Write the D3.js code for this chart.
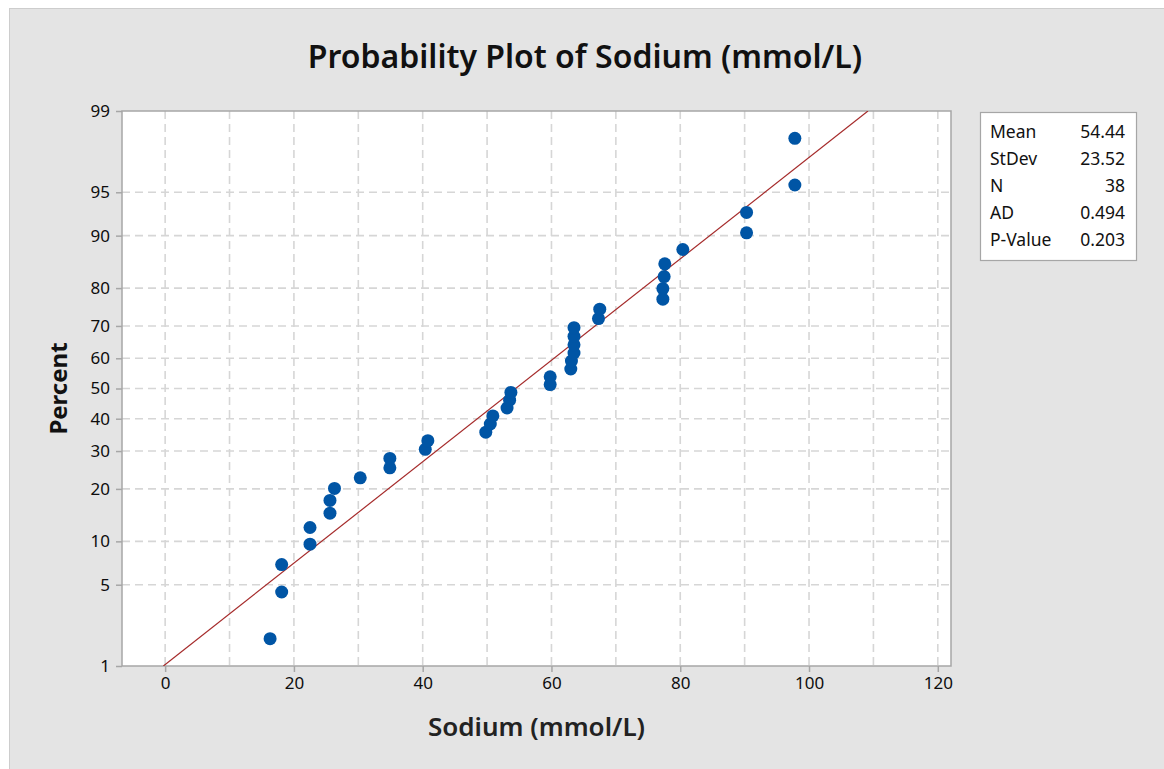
<!DOCTYPE html>
<html>
<head>
<meta charset="utf-8">
<script src="https://cdn.jsdelivr.net/npm/d3@7"></script>
<style>
  body { margin: 0; background: #fff; }
  text { font-family: "Segoe UI", "Noto Sans", "Open Sans", sans-serif; }
  .tick text { font-size: 17px; fill: #0d0d0d; }
</style>
</head>
<body>
<div id="chart"></div>
<script>
// sodium values (mmol/L), sorted
const sodium = [16.3, 18.1, 18.1, 22.5, 22.5, 25.6, 25.6, 26.3, 30.3, 34.9, 34.9, 40.4, 40.8,
  49.8, 50.5, 50.9, 53.1, 53.5, 53.7, 59.8, 59.8, 63.0, 63.1, 63.5, 63.5, 63.5, 63.5,
  67.3, 67.5, 77.3, 77.3, 77.5, 77.6, 80.4, 90.3, 90.3, 97.8, 97.8];
// plotted percent for each point
const percent = [1.8, 4.4, 7.0, 9.6, 12.2, 14.8, 17.4, 20.1, 22.7, 25.3, 27.9, 30.5, 33.1,
  35.7, 38.3, 40.9, 43.5, 46.1, 48.7, 51.3, 53.9, 56.5, 59.1, 61.7, 64.3, 66.9, 69.5,
  72.1, 74.7, 77.3, 79.9, 82.6, 85.2, 87.8, 90.4, 93.0, 95.6, 98.2];
const yTicks = [1, 5, 10, 20, 30, 40, 50, 60, 70, 80, 90, 95, 99];
const xTicks = [0, 20, 40, 60, 80, 100, 120];
const xGrid = [0, 10, 20, 30, 40, 50, 60, 70, 80, 90, 100, 110, 120];
const statLabels = ["Mean", "StDev", "N", "AD", "P-Value"];
const statValues = ["54.44", "23.52", "38", "0.494", "0.203"];
const mean = 54.44, sd = 23.52;

// inverse normal cdf (Acklam), used for the probability axis
function probit(p) {
  const a = [-39.69683028665376, 220.9460984245205, -275.9285104469687, 138.3577518672690, -30.66479806614716, 2.506628277459239];
  const b = [-54.47609879822406, 161.5858368580409, -155.6989798598866, 66.80131188771972, -13.28068155288572];
  const c = [-0.007784894002430293, -0.3223964580411365, -2.400758277161838, -2.549732539343734, 4.374664141464968, 2.938163982698783];
  const d = [0.007784695709041462, 0.3224671290700398, 2.445134137142996, 3.754408661907416];
  const pl = 0.02425;
  let q, r;
  if (p < pl) {
    q = Math.sqrt(-2 * Math.log(p));
    return (((((c[0]*q+c[1])*q+c[2])*q+c[3])*q+c[4])*q+c[5]) / ((((d[0]*q+d[1])*q+d[2])*q+d[3])*q+1);
  } else if (p <= 1 - pl) {
    q = p - 0.5; r = q * q;
    return (((((a[0]*r+a[1])*r+a[2])*r+a[3])*r+a[4])*r+a[5])*q / (((((b[0]*r+b[1])*r+b[2])*r+b[3])*r+b[4])*r+1);
  }
  q = Math.sqrt(-2 * Math.log(1 - p));
  return -(((((c[0]*q+c[1])*q+c[2])*q+c[3])*q+c[4])*q+c[5]) / ((((d[0]*q+d[1])*q+d[2])*q+d[3])*q+1);
}

const width = 1164, height = 769;
const plot = { left: 122, right: 951, top: 111, bottom: 666 };

const svg = d3.select("#chart").append("svg")
  .attr("width", width).attr("height", height);

// panel background
svg.append("rect")
  .attr("x", 9.5).attr("y", 8.5).attr("width", width - 8).attr("height", height)
  .attr("fill", "#e4e4e4").attr("stroke", "#cdcdcd");

const x = d3.scaleLinear()
  .domain([-6.7, 122.05])
  .range([plot.left, plot.right]);
const yz = d3.scaleLinear()
  .domain([probit(0.01), probit(0.99)])
  .range([plot.bottom, plot.top]);
const y = p => yz(probit(p / 100));

svg.append("rect")
  .attr("x", plot.left).attr("y", plot.top)
  .attr("width", plot.right - plot.left).attr("height", plot.bottom - plot.top)
  .attr("fill", "#fff");

// grid
const grid = svg.append("g")
  .attr("stroke", "#d6d6d6").attr("stroke-width", 1.6).attr("stroke-dasharray", "8,5");
grid.selectAll(".vg").data(xGrid).join("line")
  .attr("x1", d => x(d)).attr("x2", d => x(d))
  .attr("y1", plot.top).attr("y2", plot.bottom);
grid.selectAll(".hg").data(yTicks.slice(1, -1)).join("line")
  .attr("x1", plot.left).attr("x2", plot.right)
  .attr("y1", d => y(d)).attr("y2", d => y(d));

// frame
svg.append("rect")
  .attr("x", plot.left).attr("y", plot.top)
  .attr("width", plot.right - plot.left).attr("height", plot.bottom - plot.top)
  .attr("fill", "none").attr("stroke", "#a6a6a6").attr("stroke-width", 1.5);

// axes
const xAxis = d3.axisBottom(x).tickValues(xTicks).tickSize(6).tickPadding(5);
const gx = svg.append("g")
  .attr("transform", `translate(0,${plot.bottom})`)
  .call(xAxis);
const yAxis = d3.axisLeft(yz)
  .tickValues(yTicks.map(p => probit(p / 100)))
  .tickFormat((d, i) => yTicks[i])
  .tickSize(6).tickPadding(6);
const gy = svg.append("g")
  .attr("transform", `translate(${plot.left},0)`)
  .call(yAxis);
[gx, gy].forEach(g => {
  g.select(".domain").remove();
  g.attr("font-size", null).attr("font-family", null);
  g.selectAll(".tick line").attr("stroke", "#a6a6a6").attr("stroke-width", 1.5);
  g.selectAll(".tick text").attr("fill", null);
});

// fitted line
const zLo = probit(0.01), zHi = probit(0.99);
svg.append("defs").append("clipPath").attr("id", "clip")
  .append("rect")
  .attr("x", plot.left).attr("y", plot.top)
  .attr("width", plot.right - plot.left).attr("height", plot.bottom - plot.top);
svg.append("line")
  .attr("clip-path", "url(#clip)")
  .attr("x1", x(mean + sd * zLo)).attr("y1", yz(zLo))
  .attr("x2", x(mean + sd * zHi)).attr("y2", yz(zHi))
  .attr("stroke", "#a52a2a").attr("stroke-width", 1.2);

// points
svg.append("g").selectAll("circle")
  .data(sodium).join("circle")
  .attr("cx", d => x(d))
  .attr("cy", (d, i) => y(percent[i]))
  .attr("r", 6.5)
  .attr("fill", "#0055a5");

// title
svg.append("text")
  .attr("x", 585).attr("y", 68)
  .attr("text-anchor", "middle")
  .attr("fill", "#111")
  .style("font-size", "32px").style("font-weight", 600)
  .text("Probability Plot of Sodium (mmol/L)");

svg.append("text")
  .attr("x", (plot.left + plot.right) / 2).attr("y", 736)
  .attr("text-anchor", "middle")
  .attr("fill", "#222")
  .style("font-size", "26px").style("font-weight", 600)
  .text("Sodium (mmol/L)");

svg.append("text")
  .attr("transform", `translate(67,${(plot.top + plot.bottom) / 2}) rotate(-90)`)
  .attr("text-anchor", "middle")
  .attr("fill", "#111")
  .style("font-size", "24px").style("font-weight", 700)
  .text("Percent");

// stats box
const box = svg.append("g");
box.append("rect")
  .attr("x", 980.5).attr("y", 112.5).attr("width", 156).attr("height", 148)
  .attr("fill", "#fff").attr("stroke", "#a6a6a6").attr("stroke-width", 1.2);
statLabels.forEach((s, i) => {
  box.append("text")
    .attr("x", 990).attr("y", 138 + i * 27)
    .attr("fill", "#111").style("font-size", "17.5px")
    .text(s);
  box.append("text")
    .attr("x", 1125).attr("y", 138 + i * 27)
    .attr("text-anchor", "end")
    .attr("fill", "#111").style("font-size", "17.5px")
    .text(statValues[i]);
});
</script>
</body>
</html>
